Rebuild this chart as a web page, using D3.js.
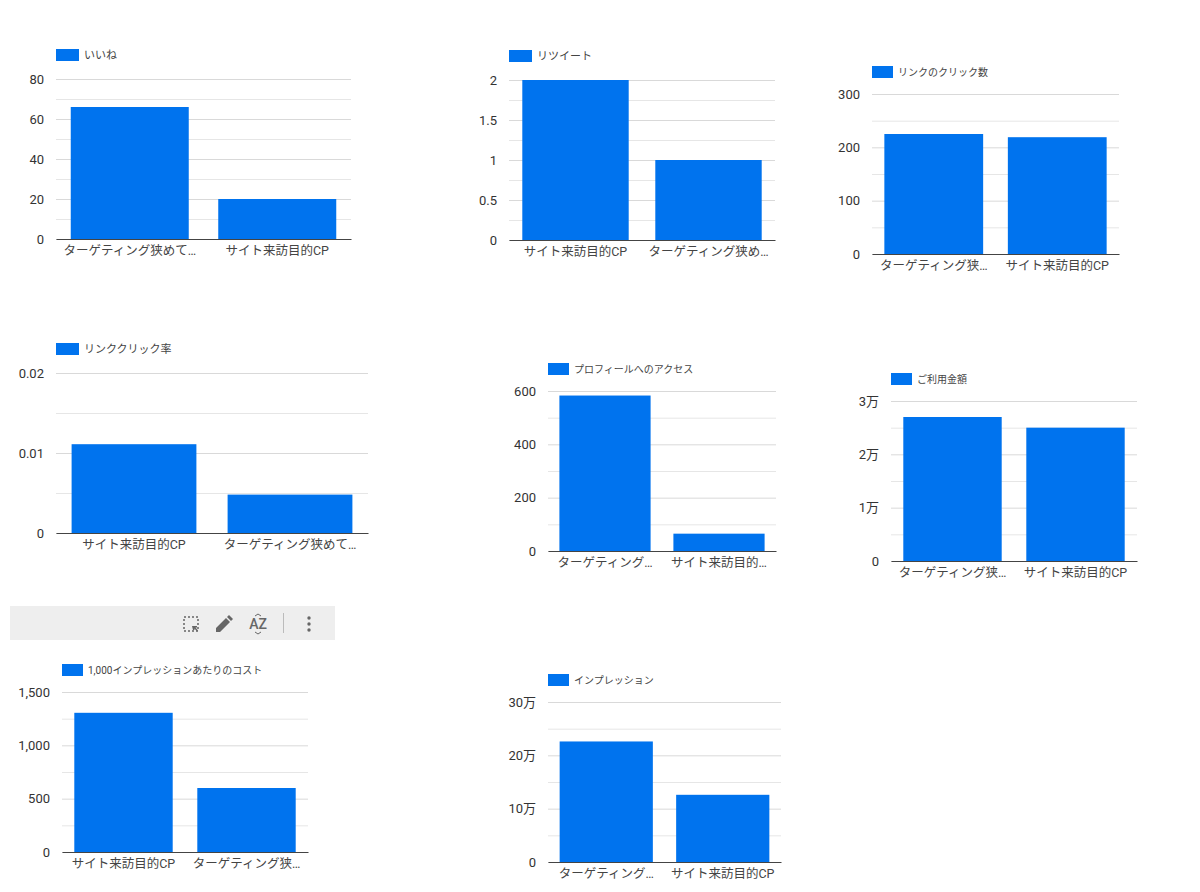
<!DOCTYPE html>
<html>
<head>
<meta charset="utf-8">
<script src="https://cdn.jsdelivr.net/npm/d3@7"></script>
<style>
  html, body { margin: 0; padding: 0; background: #fff; }
  svg { display: block; }
  text { font-family: Roboto, "Noto Sans CJK JP", sans-serif; }
</style>
</head>
<body>
<svg id="chart" width="1200" height="892"></svg>
<script>
// values
const titles = ["いいね", "リツイート", "リンクのクリック数", "リンククリック率",
  "プロフィールへのアクセス", "ご利用金額", "1,000インプレッションあたりのコスト", "インプレッション"];

const categories = [
  ["ターゲティング狭めて…", "サイト来訪目的CP"],
  ["サイト来訪目的CP", "ターゲティング狭め…"],
  ["ターゲティング狭…", "サイト来訪目的CP"],
  ["サイト来訪目的CP", "ターゲティング狭めて…"],
  ["ターゲティング…", "サイト来訪目的…"],
  ["ターゲティング狭…", "サイト来訪目的CP"],
  ["サイト来訪目的CP", "ターゲティング狭…"],
  ["ターゲティング…", "サイト来訪目的CP"]
];

const values = [
  [66, 20],
  [2, 1],
  [225, 219],
  [0.0111, 0.0048],
  [583, 65],
  [27000, 25000],
  [1305, 600],
  [226000, 126000]
];

const yTicks = [
  [0, 20, 40, 60, 80],
  [0, 0.5, 1, 1.5, 2],
  [0, 100, 200, 300],
  [0, 0.01, 0.02],
  [0, 200, 400, 600],
  [0, 10000, 20000, 30000],
  [0, 500, 1000, 1500],
  [0, 100000, 200000, 300000]
];

const yTickLabels = [
  ["0", "20", "40", "60", "80"],
  ["0", "0.5", "1", "1.5", "2"],
  ["0", "100", "200", "300"],
  ["0", "0.01", "0.02"],
  ["0", "200", "400", "600"],
  ["0", "1万", "2万", "3万"],
  ["0", "500", "1,000", "1,500"],
  ["0", "10万", "20万", "30万"]
];

// where each small chart sits on the page
const frames = [
  { left: 56, right: 351, top: 79, bottom: 239, legendY: 49, legendW: 23, legendFont: 11 },
  { left: 509, right: 775, top: 80, bottom: 240, legendY: 50, legendW: 23, legendFont: 11 },
  { left: 872, right: 1119, top: 94, bottom: 254, legendY: 66, legendW: 21, legendFont: 10 },
  { left: 56, right: 368, top: 373, bottom: 533, legendY: 343, legendW: 23, legendFont: 11 },
  { left: 548, right: 776, top: 391, bottom: 551, legendY: 363, legendW: 21, legendFont: 10 },
  { left: 891, right: 1137, top: 401, bottom: 561, legendY: 373, legendW: 21, legendFont: 10 },
  { left: 62, right: 308, top: 692, bottom: 852, legendY: 664, legendW: 21, legendFont: 10 },
  { left: 548, right: 781, top: 702, bottom: 862, legendY: 674, legendW: 21, legendFont: 10 }
];

const barColor = "#0073ee";
const textColor = "#444";
const svg = d3.select("#chart");

titles.forEach((title, i) => {
  const f = frames[i];

  const x = d3.scaleBand()
    .domain(categories[i])
    .range([f.left, f.right])
    .paddingInner(0.2)
    .paddingOuter(0.1);

  const y = d3.scaleLinear()
    .domain(d3.extent(yTicks[i]))
    .range([f.bottom, f.top]);

  const g = svg.append("g").attr("class", "panel");

  // the lighter lines half way between two ticks
  const minorTicks = d3.pairs(yTicks[i]).map(p => (p[0] + p[1]) / 2);

  g.append("g")
    .attr("transform", `translate(${f.left},0)`)
    .call(d3.axisLeft(y).tickValues(minorTicks).tickSize(-(f.right - f.left)).tickFormat(""))
    .call(s => s.select(".domain").remove())
    .call(s => s.selectAll("line").attr("stroke", "#e6e6e6"));

  const yAxis = d3.axisLeft(y)
    .tickValues(yTicks[i])
    .tickSize(-(f.right - f.left))
    .tickPadding(12)
    .tickFormat((d, k) => yTickLabels[i][k]);

  g.append("g")
    .attr("transform", `translate(${f.left},0)`)
    .call(yAxis)
    .call(s => s.select(".domain").remove())
    .call(s => s.selectAll("line").attr("stroke", "#d9d9d9"))
    .call(s => s.selectAll("text").attr("fill", "#333").style("font-size", "13px")
      .style("font-family", "Roboto, 'Noto Sans CJK JP', sans-serif"));

  g.selectAll("rect.bar")
    .data(values[i])
    .enter().append("rect")
    .attr("class", "bar")
    .attr("x", (d, k) => x(categories[i][k]))
    .attr("y", d => y(d))
    .attr("width", x.bandwidth())
    .attr("height", d => y(0) - y(d))
    .attr("fill", barColor);

  const xAxis = d3.axisBottom(x).tickSize(0).tickPadding(7);

  g.append("g")
    .attr("transform", `translate(0,${f.bottom})`)
    .call(xAxis)
    .call(s => s.select(".domain").attr("stroke", "#444").attr("stroke-width", 1.2))
    .call(s => s.selectAll("text").attr("fill", textColor).style("font-size", "12.5px")
      .style("font-family", "Roboto, 'Noto Sans CJK JP', sans-serif"));

  // legend
  g.append("rect")
    .attr("x", f.left)
    .attr("y", f.legendY)
    .attr("width", f.legendW)
    .attr("height", 12)
    .attr("fill", barColor);

  g.append("text")
    .attr("x", f.left + f.legendW + 5)
    .attr("y", f.legendY + 6)
    .attr("dy", "0.35em")
    .attr("fill", textColor)
    .style("font-size", f.legendFont + "px")
    .text(title);
});

// toolbar above the seventh chart
const bar = svg.append("g").attr("class", "toolbar");
const iconColor = "#666";

bar.append("rect").attr("x", 10).attr("y", 606).attr("width", 325).attr("height", 34).attr("fill", "#eee");

bar.append("rect").attr("x", 184).attr("y", 617).attr("width", 14).attr("height", 14)
  .attr("fill", "none").attr("stroke", iconColor).attr("stroke-width", 1.5).attr("stroke-dasharray", "2 2");
bar.append("path").attr("d", "M192 626h5v1.5h-1.5l2.5 3-1 1-2.5-3V630h-1.5z").attr("fill", iconColor);

bar.append("path")
  .attr("d", "M216 632v-4l10-10 4 4-10 10zM227 617l2-2 4 4-2 2z")
  .attr("fill", iconColor);

bar.append("text").attr("x", 258).attr("y", 629).attr("text-anchor", "middle")
  .attr("fill", iconColor).style("font-size", "14px").style("font-weight", 500).text("AZ");
bar.append("path").attr("d", "M255 616l3-2 3 2M255 632l3 2 3-2")
  .attr("fill", "none").attr("stroke", iconColor);

bar.append("line").attr("x1", 283.5).attr("x2", 283.5).attr("y1", 613).attr("y2", 633)
  .attr("stroke", "#bbb");

bar.selectAll("circle")
  .data([618, 624, 630])
  .enter().append("circle")
  .attr("cx", 309)
  .attr("cy", d => d)
  .attr("r", 1.7)
  .attr("fill", iconColor);
</script>
</body>
</html>
